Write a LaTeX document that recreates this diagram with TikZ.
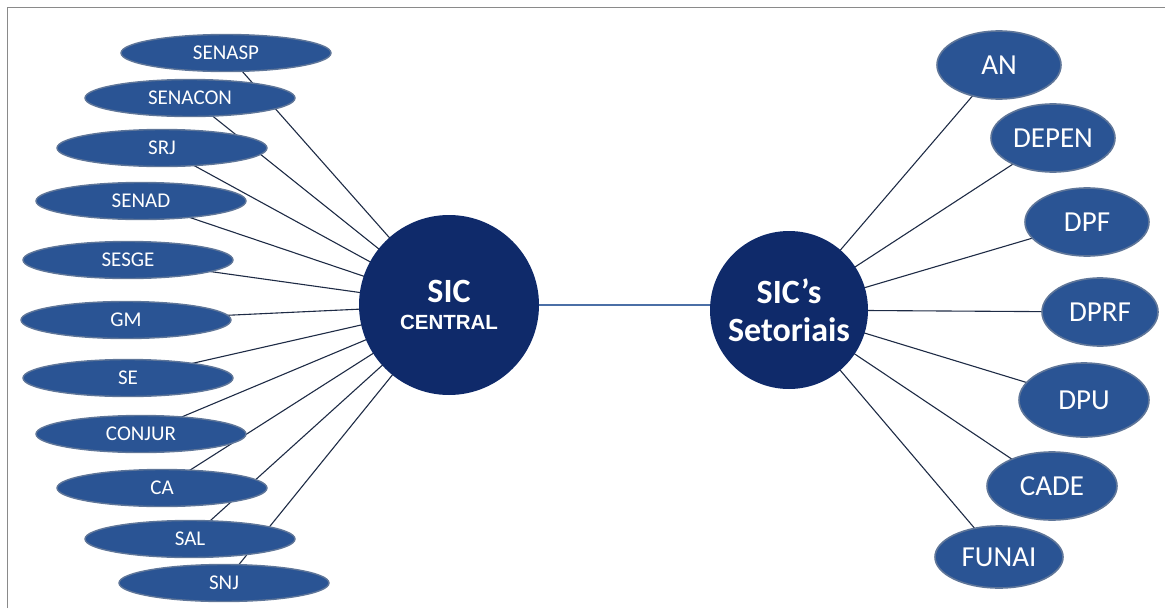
\documentclass[tikz,border=0pt]{standalone}
\usepackage{fontspec}
\setmainfont{Carlito}
\newfontfamily\arialfont{Liberation Sans}
\usepackage{xcolor}
\usepackage{tikz}
\usetikzlibrary{shapes.geometric,backgrounds}
\definecolor{sicnavy}{HTML}{0F2A6A}
\definecolor{sicblue}{HTML}{2A5494}
\definecolor{sicrim}{HTML}{5F7699}
\definecolor{sicline}{HTML}{1E2B45}
\definecolor{sichub}{HTML}{4B6FA6}
\definecolor{sicframe}{HTML}{8A8A8A}

\begin{document}
\begin{tikzpicture}[x=1pt, y=-1pt,
  leftunit/.style={ellipse, draw=sicrim, line width=1.4pt, fill=sicblue, text=white, inner sep=0pt, minimum width=210pt, minimum height=37pt, font=\fontsize{21}{23}\selectfont},
  rightunit/.style={ellipse, draw=sicrim, line width=1.6pt, fill=sicblue, text=white, inner sep=0pt, minimum width=124pt, minimum height=68pt, font=\fontsize{29}{31}\selectfont},
  hub/.style={circle, fill=sicnavy, text=white, inner sep=0pt, align=center},
  spoke/.style={sicline, line width=1.1pt}]
  \useasboundingbox (0,0) rectangle (1165,608);
  \draw[sicframe, line width=1.5pt] (7.5,608) -- (7.5,7.5) -- (1165,7.5);

  % central hubs
  \node[hub, minimum size=180pt, font=\fontsize{34}{36}\selectfont\bfseries] (central) at (449,305) {SIC\\[-9pt]{\arialfont\fontsize{20.5}{22}\selectfont CENTRAL}};
  \node[hub, minimum size=158pt, font=\fontsize{34}{38}\selectfont\bfseries] (setoriais) at (789,310) {SIC’s\\Setoriais};

  % left units
  \node[leftunit] (senasp) at (226,53) {SENASP};
  \node[leftunit] (senacon) at (190,98) {SENACON};
  \node[leftunit] (srj) at (162,148) {SRJ};
  \node[leftunit] (senad) at (141,201) {SENAD};
  \node[leftunit] (sesge) at (128,260) {SESGE};
  \node[leftunit] (gm) at (126,320) {GM};
  \node[leftunit] (se) at (128,378) {SE};
  \node[leftunit] (conjur) at (141,434) {CONJUR};
  \node[leftunit] (ca) at (162,488) {CA};
  \node[leftunit] (sal) at (190,539) {SAL};
  \node[leftunit] (snj) at (224,583) {SNJ};

  % right units
  \node[rightunit] (an) at (999,65) {AN};
  \node[rightunit] (depen) at (1053,138) {DEPEN};
  \node[rightunit] (dpf) at (1087,222) {DPF};
  \node[rightunit, minimum width=116pt] (dprf) at (1100,312) {DPRF};
  \node[rightunit, minimum width=130pt, minimum height=74pt] (dpu) at (1084,400) {DPU};
  \node[rightunit, minimum width=130pt] (cade) at (1052,486) {CADE};
  \node[rightunit, minimum width=128pt, minimum height=62pt] (funai) at (999,557) {FUNAI};

  \begin{scope}[on background layer]
    \draw[spoke] (senasp.center) -- (central.center);
    \draw[spoke] (senacon.center) -- (central.center);
    \draw[spoke] (srj.center) -- (central.center);
    \draw[spoke] (senad.center) -- (central.center);
    \draw[spoke] (sesge.center) -- (central.center);
    \draw[spoke] (gm.center) -- (central.center);
    \draw[spoke] (se.center) -- (central.center);
    \draw[spoke] (conjur.center) -- (central.center);
    \draw[spoke] (ca.center) -- (central.center);
    \draw[spoke] (sal.center) -- (central.center);
    \draw[spoke] (snj.center) -- (central.center);

    \draw[spoke] (setoriais.center) -- (an.center);
    \draw[spoke] (setoriais.center) -- (depen.center);
    \draw[spoke] (setoriais.center) -- (dpf.center);
    \draw[spoke] (setoriais.center) -- (dprf.center);
    \draw[spoke] (setoriais.center) -- (dpu.center);
    \draw[spoke] (setoriais.center) -- (cade.center);
    \draw[spoke] (setoriais.center) -- (funai.center);

    \draw[sichub, line width=1.6pt] (central.east) -- (central.east -| setoriais.center);
  \end{scope}
\end{tikzpicture}
\end{document}
